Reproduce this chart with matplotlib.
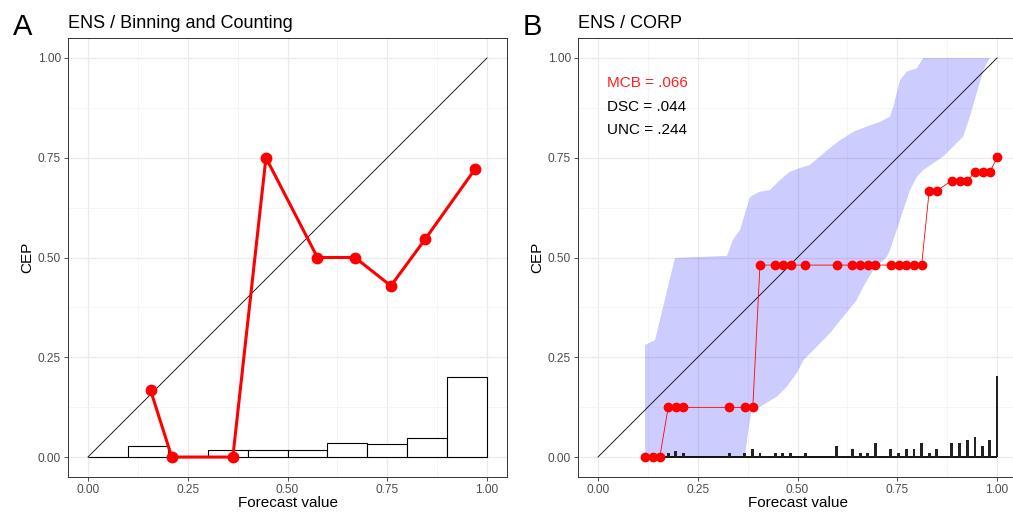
#!/usr/bin/env python3

import matplotlib

matplotlib.use("Agg")
import matplotlib.pyplot as plt
from matplotlib.ticker import MultipleLocator

plt.rcParams["font.family"] = ["Liberation Sans", "DejaVu Sans"]

# Panel A: binning and counting
bin_x = [0.157, 0.21, 0.363, 0.446, 0.575, 0.669, 0.759, 0.845, 0.971]
bin_cep = [0.167, 0.0, 0.0, 0.75, 0.5, 0.5, 0.429, 0.546, 0.723]
hist_left = [0.0, 0.1, 0.2, 0.3, 0.4, 0.5, 0.6, 0.7, 0.8, 0.9]
hist_height = [0.0, 0.028, 0.0, 0.0175, 0.0175, 0.0175, 0.036, 0.032, 0.048, 0.2]

# Panel B: CORP (isotonic) reliability curve
corp_x = [0.118, 0.137, 0.155,
          0.176, 0.195, 0.214, 0.329, 0.368, 0.388,
          0.406, 0.444, 0.463, 0.483, 0.52, 0.598, 0.637, 0.657, 0.676,
          0.695, 0.734, 0.754, 0.773, 0.792, 0.811,
          0.83, 0.849,
          0.886, 0.906, 0.925,
          0.945, 0.964, 0.982,
          1.0]
corp_cep = [0.0] * 3 + [0.1245] * 6 + [0.481] * 15 + [0.667] * 2 + [0.6925] * 3 + [0.7135] * 3 + [0.751]
corp_count = [0.009, 0.009, 0.009,
              0.009, 0.015, 0.011, 0.009, 0.011, 0.019,
              0.009, 0.009, 0.009, 0.009, 0.009, 0.028, 0.019, 0.011, 0.011,
              0.036, 0.019, 0.011, 0.019, 0.019, 0.034,
              0.009, 0.019,
              0.034, 0.034, 0.043,
              0.051, 0.028, 0.043,
              0.203]

# consistency band
band_upper_x = [0.118, 0.118, 0.143, 0.193, 0.323, 0.338, 0.356, 0.381, 0.406, 0.431, 0.456,
                0.481, 0.506, 0.531, 0.556, 0.581, 0.607, 0.640, 0.673, 0.707, 0.732, 0.740,
                0.757, 0.774, 0.799, 0.815, 1.0]
band_upper_y = [0.0, 0.281, 0.293, 0.499, 0.504, 0.544, 0.569, 0.652, 0.665, 0.669, 0.694,
                0.715, 0.724, 0.732, 0.753, 0.774, 0.794, 0.815, 0.828, 0.840, 0.853, 0.878,
                0.945, 0.966, 0.974, 1.0, 1.0]
band_lower_x = [0.118, 0.368, 0.377, 0.385, 0.406, 0.448, 0.473, 0.498, 0.515, 0.548, 0.581,
                0.615, 0.648, 0.665, 0.690, 0.724, 0.732, 0.757, 0.782, 0.799, 0.815, 0.865,
                0.915, 0.932, 0.949, 0.966, 0.982, 1.0]
band_lower_y = [0.0, 0.0, 0.068, 0.118, 0.126, 0.151, 0.176, 0.210, 0.243, 0.276, 0.310,
                0.352, 0.393, 0.427, 0.469, 0.502, 0.519, 0.594, 0.669, 0.702, 0.719, 0.753,
                0.803, 0.853, 0.912, 0.970, 1.0, 1.0]

score_labels = ["MCB = .066", "DSC = .044", "UNC = .244"]
score_colors = ["#ff2020", "black", "black"]

ticks = [0.0, 0.25, 0.5, 0.75, 1.0]
tick_labels = ["0.00", "0.25", "0.50", "0.75", "1.00"]


def style_axes(ax):
    """theme_bw-like panel."""
    ax.set_xlim(-0.05, 1.05)
    ax.set_ylim(-0.05, 1.05)
    ax.set_xticks(ticks)
    ax.set_yticks(ticks)
    ax.set_xticklabels(tick_labels)
    ax.set_yticklabels(tick_labels)
    ax.xaxis.set_minor_locator(MultipleLocator(0.125))
    ax.yaxis.set_minor_locator(MultipleLocator(0.125))
    ax.grid(which="major", color="#ebebeb", lw=0.9)
    ax.grid(which="minor", color="#f2f2f2", lw=0.5)
    ax.set_axisbelow(True)
    ax.tick_params(which="major", length=3, width=0.6, color="#333333",
                   labelsize=8.6, labelcolor="#4d4d4d", pad=2)
    ax.tick_params(which="minor", length=0)
    for s in ax.spines.values():
        s.set_color("#333333")
        s.set_linewidth(0.7)
    ax.set_xlabel("Forecast value", fontsize=11, labelpad=0)
    ax.set_ylabel("CEP", fontsize=11, labelpad=3)


def main():
    fig = plt.figure(figsize=(10.13, 5.14), dpi=100)
    W, H = 1013, 514
    ax_a = fig.add_axes([68 / W, 37 / H, 439 / W, 439 / H])
    ax_b = fig.add_axes([578 / W, 37 / H, 439 / W, 439 / H])

    # Panel A
    style_axes(ax_a)
    ax_a.bar(hist_left, hist_height, width=0.1, align="edge",
             facecolor="white", edgecolor="black", lw=0.8, zorder=2)
    ax_a.plot([0, 1], [0, 1], color="black", lw=0.6, zorder=3)
    ax_a.plot(bin_x, bin_cep, color="#ff0000", lw=2.2, marker="o", ms=7.5, zorder=4)
    ax_a.set_title("ENS / Binning and Counting", loc="left", fontsize=13, pad=7)

    # Panel B
    style_axes(ax_b)
    ax_b.fill(band_upper_x + band_lower_x[::-1], band_upper_y + band_lower_y[::-1],
              color="#0000ff", alpha=0.2, lw=0, zorder=2)
    ax_b.plot([0, 1], [0, 1], color="black", lw=0.6, zorder=3)
    ax_b.hlines(0, corp_x[0], corp_x[-1], color="black", lw=1.3, zorder=3)
    ax_b.bar(corp_x, corp_count, width=0.007, color="#222222", zorder=3)
    ax_b.plot(corp_x, corp_cep, color="#ff0000", lw=0.6, marker="o", ms=6, zorder=4)
    for i, (lab, col) in enumerate(zip(score_labels, score_colors)):
        ax_b.text(0.023, 0.937 - 0.059 * i, lab, color=col, fontsize=11,
                  ha="left", va="center", zorder=5)
    ax_b.set_title("ENS / CORP", loc="left", fontsize=13, pad=7)

    fig.text(13 / W, 1 - 27 / H, "A", fontsize=21, va="center", ha="left")
    fig.text(523 / W, 1 - 27 / H, "B", fontsize=21, va="center", ha="left")

    fig.savefig("out.png", dpi=100)
    plt.close(fig)


if __name__ == "__main__":
    main()
